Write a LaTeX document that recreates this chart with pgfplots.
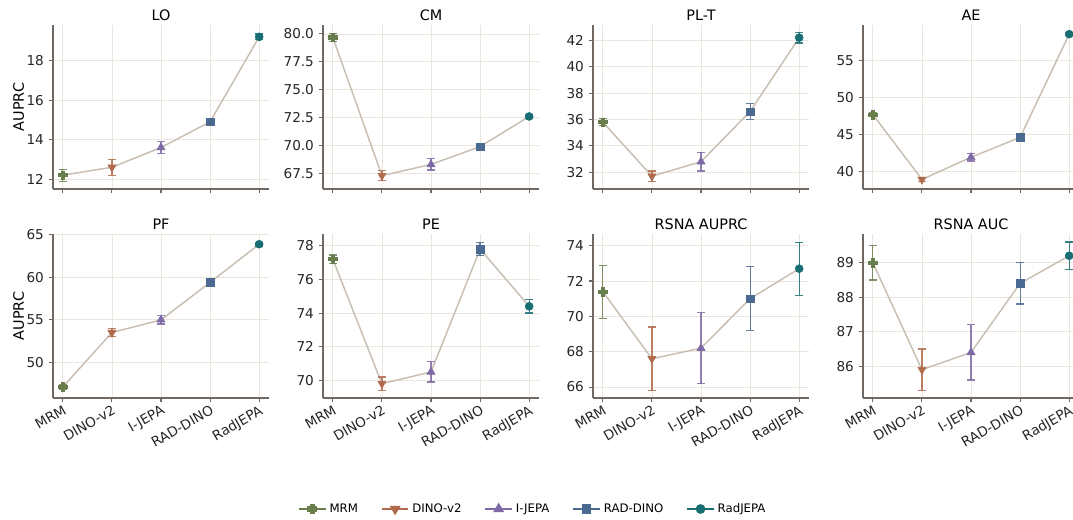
\documentclass[border=0pt]{standalone}
\usepackage{fontspec}
\setmainfont{DejaVu Sans}
\usepackage{pgfplots}
\pgfplotsset{compat=1.18}

\definecolor{cMRM}{RGB}{104,126,76}
\definecolor{cDINO}{RGB}{176,106,76}
\definecolor{cIJ}{RGB}{126,106,166}
\definecolor{cRAD}{RGB}{74,106,146}
\definecolor{cRJ}{RGB}{24,110,114}
\definecolor{linec}{RGB}{200,190,178}
\definecolor{gridc}{RGB}{234,230,222}
\definecolor{spinec}{RGB}{112,104,98}

% filled thick plus, like matplotlib "P"
\pgfdeclareplotmark{P}{%
  \pgfpathmoveto{\pgfqpoint{-0.36\pgfplotmarksize}{\pgfplotmarksize}}%
  \pgfpathlineto{\pgfqpoint{0.36\pgfplotmarksize}{\pgfplotmarksize}}%
  \pgfpathlineto{\pgfqpoint{0.36\pgfplotmarksize}{0.36\pgfplotmarksize}}%
  \pgfpathlineto{\pgfqpoint{\pgfplotmarksize}{0.36\pgfplotmarksize}}%
  \pgfpathlineto{\pgfqpoint{\pgfplotmarksize}{-0.36\pgfplotmarksize}}%
  \pgfpathlineto{\pgfqpoint{0.36\pgfplotmarksize}{-0.36\pgfplotmarksize}}%
  \pgfpathlineto{\pgfqpoint{0.36\pgfplotmarksize}{-\pgfplotmarksize}}%
  \pgfpathlineto{\pgfqpoint{-0.36\pgfplotmarksize}{-\pgfplotmarksize}}%
  \pgfpathlineto{\pgfqpoint{-0.36\pgfplotmarksize}{-0.36\pgfplotmarksize}}%
  \pgfpathlineto{\pgfqpoint{-\pgfplotmarksize}{-0.36\pgfplotmarksize}}%
  \pgfpathlineto{\pgfqpoint{-\pgfplotmarksize}{0.36\pgfplotmarksize}}%
  \pgfpathlineto{\pgfqpoint{-0.36\pgfplotmarksize}{0.36\pgfplotmarksize}}%
  \pgfpathclose
  \pgfusepathqfillstroke}

\pgfplotsset{
  panel/.style={
    scale only axis, width=162pt, height=123pt,
    xmin=-0.2, xmax=4.2, xtick={0,...,4}, xticklabels={},
    axis x line*=bottom, axis y line*=left,
    axis line style={spinec, line width=0.8pt, -},
    tick style={spinec, line width=0.8pt},
    tick align=outside, major tick length=3.3pt,
    grid=major, grid style={gridc, line width=0.6pt},
    ticklabel style={font=\fontsize{10.2}{12}\selectfont, text=black!85},
    title style={font=\fontsize{10.8}{13}\selectfont, yshift=-6.5pt},
    label style={font=\fontsize{10.8}{13}\selectfont},
    ylabel shift=-5pt,
    /pgf/number format/assume math mode=true,
    clip=false,
  },
  bottomrow/.style={
    xticklabels={MRM,DINO-v2,I-JEPA,RAD-DINO,RadJEPA},
    xticklabel style={rotate=30, anchor=north east, inner sep=1pt},
  },
  errb/.style={only marks,
    error bars/y dir=both, error bars/y explicit,
    error bars/error bar style={line width=0.9pt, opacity=0.85},
    error bars/error mark options={rotate=90, mark size=2.8pt, line width=0.9pt, opacity=0.85}},
  conn/.style={linec, line width=1.1pt, no marks},
  mMRM/.style={errb, color=cMRM, mark=P, mark size=3.2pt},
  mDINO/.style={errb, color=cDINO, mark=triangle*, mark size=3.5pt, mark options={rotate=180}},
  mIJ/.style={errb, color=cIJ, mark=triangle*, mark size=3.5pt},
  mRAD/.style={errb, color=cRAD, mark=square*, mark size=2.8pt},
  mRJ/.style={errb, color=cRJ, mark=*, mark size=3pt},
}

\begin{document}
\begin{tikzpicture}
% ---- row 1 ----
\begin{axis}[panel, at={(39.75pt,247.5pt)}, anchor=south west,
  title={LO}, ylabel={AUPRC}, ymin=11.5, ymax=19.8, ytick={12,14,16,18}]
\addplot[conn] coordinates {(0,12.2) (1,12.6) (2,13.6) (3,14.9) (4,19.2)};
\addplot[mMRM] coordinates {(0,12.2) +- (0,0.3)};
\addplot[mDINO] coordinates {(1,12.6) +- (0,0.4)};
\addplot[mIJ] coordinates {(2,13.6) +- (0,0.3)};
\addplot[mRAD] coordinates {(3,14.9) +- (0,0.15)};
\addplot[mRJ] coordinates {(4,19.2) +- (0,0.15)};
\end{axis}

\begin{axis}[panel, at={(242.25pt,247.5pt)}, anchor=south west,
  title={CM}, ymin=66.1, ymax=80.8, ytick={67.5,70,72.5,75,77.5,80},
  yticklabel style={/pgf/number format/.cd, fixed, fixed zerofill, precision=1}]
\addplot[conn] coordinates {(0,79.7) (1,67.3) (2,68.3) (3,69.9) (4,72.6)};
\addplot[mMRM] coordinates {(0,79.7) +- (0,0.35)};
\addplot[mDINO] coordinates {(1,67.3) +- (0,0.45)};
\addplot[mIJ] coordinates {(2,68.3) +- (0,0.5)};
\addplot[mRAD] coordinates {(3,69.9) +- (0,0.1)};
\addplot[mRJ] coordinates {(4,72.6) +- (0,0.15)};
\end{axis}

\begin{axis}[panel, at={(444.75pt,247.5pt)}, anchor=south west,
  title={PL-T}, ymin=30.73, ymax=43.16, ytick={32,34,...,42}]
\addplot[conn] coordinates {(0,35.8) (1,31.7) (2,32.8) (3,36.6) (4,42.2)};
\addplot[mMRM] coordinates {(0,35.8) +- (0,0.25)};
\addplot[mDINO] coordinates {(1,31.7) +- (0,0.4)};
\addplot[mIJ] coordinates {(2,32.8) +- (0,0.7)};
\addplot[mRAD] coordinates {(3,36.6) +- (0,0.6)};
\addplot[mRJ] coordinates {(4,42.2) +- (0,0.4)};
\end{axis}

\begin{axis}[panel, at={(647.25pt,247.5pt)}, anchor=south west,
  title={AE}, ymin=37.6, ymax=59.84, ytick={40,45,50,55}]
\addplot[conn] coordinates {(0,47.7) (1,38.9) (2,41.9) (3,44.6) (4,58.6)};
\addplot[mMRM] coordinates {(0,47.7) +- (0,0.3)};
\addplot[mDINO] coordinates {(1,38.9) +- (0,0.3)};
\addplot[mIJ] coordinates {(2,41.9) +- (0,0.5)};
\addplot[mRAD] coordinates {(3,44.6) +- (0,0.2)};
\addplot[mRJ] coordinates {(4,58.6) +- (0,0.2)};
\end{axis}

% ---- row 2 ----
\begin{axis}[panel, bottomrow, at={(39.75pt,90.75pt)}, anchor=south west,
  title={PF}, ylabel={AUPRC}, ymin=45.8, ymax=65.1, ytick={50,55,60,65}]
\addplot[conn] coordinates {(0,47.1) (1,53.5) (2,55.0) (3,59.4) (4,63.9)};
\addplot[mMRM] coordinates {(0,47.1) +- (0,0.3)};
\addplot[mDINO] coordinates {(1,53.5) +- (0,0.5)};
\addplot[mIJ] coordinates {(2,55.0) +- (0,0.5)};
\addplot[mRAD] coordinates {(3,59.4) +- (0,0.2)};
\addplot[mRJ] coordinates {(4,63.9) +- (0,0.2)};
\end{axis}

\begin{axis}[panel, bottomrow, at={(242.25pt,90.75pt)}, anchor=south west,
  title={PE}, ymin=68.95, ymax=78.7, ytick={70,72,...,78}]
\addplot[conn] coordinates {(0,77.2) (1,69.8) (2,70.5) (3,77.8) (4,74.4)};
\addplot[mMRM] coordinates {(0,77.2) +- (0,0.25)};
\addplot[mDINO] coordinates {(1,69.8) +- (0,0.4)};
\addplot[mIJ] coordinates {(2,70.5) +- (0,0.6)};
\addplot[mRAD] coordinates {(3,77.8) +- (0,0.4)};
\addplot[mRJ] coordinates {(4,74.4) +- (0,0.4)};
\end{axis}

\begin{axis}[panel, bottomrow, at={(444.75pt,90.75pt)}, anchor=south west,
  title={RSNA AUPRC}, ymin=65.38, ymax=74.66, ytick={66,68,...,74}]
\addplot[conn] coordinates {(0,71.4) (1,67.6) (2,68.2) (3,71.0) (4,72.7)};
\addplot[mMRM] coordinates {(0,71.4) +- (0,1.5)};
\addplot[mDINO] coordinates {(1,67.6) +- (0,1.8)};
\addplot[mIJ] coordinates {(2,68.2) +- (0,2.0)};
\addplot[mRAD] coordinates {(3,71.0) +- (0,1.8)};
\addplot[mRJ] coordinates {(4,72.7) +- (0,1.5)};
\end{axis}

\begin{axis}[panel, bottomrow, at={(647.25pt,90.75pt)}, anchor=south west,
  title={RSNA AUC}, ymin=85.08, ymax=89.83, ytick={86,87,88,89}]
\addplot[conn] coordinates {(0,89.0) (1,85.9) (2,86.4) (3,88.4) (4,89.2)};
\addplot[mMRM] coordinates {(0,89.0) +- (0,0.5)};
\addplot[mDINO] coordinates {(1,85.9) +- (0,0.6)};
\addplot[mIJ] coordinates {(2,86.4) +- (0,0.8)};
\addplot[mRAD] coordinates {(3,88.4) +- (0,0.6)};
\addplot[mRJ] coordinates {(4,89.2) +- (0,0.4)};
\end{axis}

% ---- shared legend ----
\begin{axis}[at={(0pt,0pt)}, anchor=south west, scale only axis,
  width=804.75pt, height=389.25pt, hide axis,
  xmin=0, xmax=1, ymin=0, ymax=1,
  legend columns=5,
  legend style={at={(0.4967,0.0193)}, anchor=center, draw=none, fill=none,
    font=\fontsize{8.8}{10}\selectfont,
    /tikz/every even column/.append style={column sep=15pt}},
  legend image code/.code={\draw[mark repeat=2, mark phase=2, line width=1.8pt]
    plot coordinates {(0pt,0pt) (10pt,0pt) (20pt,0pt)};}]
\addlegendimage{cMRM, mark=P, mark size=2.8pt}
\addlegendentry{MRM}
\addlegendimage{cDINO, mark=triangle*, mark size=3pt, mark options={rotate=180}}
\addlegendentry{DINO-v2}
\addlegendimage{cIJ, mark=triangle*, mark size=3pt}
\addlegendentry{I-JEPA}
\addlegendimage{cRAD, mark=square*, mark size=2.5pt}
\addlegendentry{RAD-DINO}
\addlegendimage{cRJ, mark=*, mark size=2.7pt}
\addlegendentry{RadJEPA}
\end{axis}

\pgfresetboundingbox
\path[use as bounding box] (0pt,0pt) rectangle (804.75pt,389.25pt);
\end{tikzpicture}
\end{document}
